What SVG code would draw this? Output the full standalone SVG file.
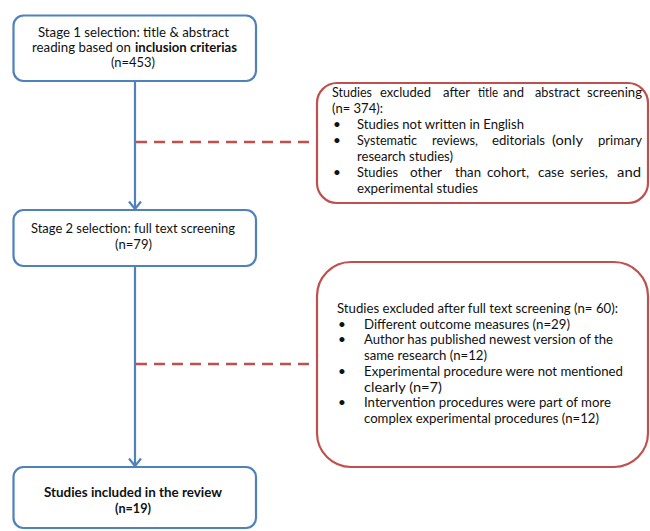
<svg xmlns="http://www.w3.org/2000/svg" width="650" height="531" viewBox="0 0 650 531">
<defs>
<style>
.blue{fill:#fff;stroke:#4f81bd;stroke-width:2.2}
.red{fill:#fff;stroke:#c0504d;stroke-width:2.2}
.t{font-family:Lato,"Open Sans","Liberation Sans",sans-serif;font-size:13.5px;fill:#111}
.b{font-weight:bold}
.flow{stroke:#4f81bd;stroke-width:2.2;fill:none}
.dash{stroke:#c0504d;stroke-width:2.5;stroke-dasharray:11 7;fill:none}
</style>
<marker id="arr" viewBox="0 0 10 14" refX="8.5" refY="7" markerWidth="10" markerHeight="14" markerUnits="userSpaceOnUse" orient="auto">
<path d="M1,1 L8.5,7 L1,13" fill="none" stroke="#4f81bd" stroke-width="2.2"/>
</marker>
</defs>
<rect width="650" height="531" fill="#fff"/>
<g id="connectors">
<line class="flow" x1="135" y1="81" x2="135" y2="209" marker-end="url(#arr)"/>
<line class="flow" x1="135" y1="266" x2="135" y2="466" marker-end="url(#arr)"/>
<line class="dash" x1="136" y1="142" x2="317" y2="142"/>
<line class="dash" x1="136" y1="364" x2="317" y2="364"/>
</g>
<g id="stage1">
<rect class="blue" x="13.5" y="15.5" width="242.5" height="65.5" rx="10"/>
<text class="t" x="38" y="37" textLength="191" lengthAdjust="spacingAndGlyphs">Stage 1 selection: title &amp; abstract</text>
<text class="t" x="32" y="52" textLength="99" lengthAdjust="spacingAndGlyphs">reading based on</text>
<text class="t b" x="135" y="52" textLength="102" lengthAdjust="spacingAndGlyphs">inclusion  criterias</text>
<text class="t" x="111" y="67" textLength="44" lengthAdjust="spacingAndGlyphs">(n=453)</text>
</g>
<g id="excluded1">
<rect class="red" x="317" y="83" width="331" height="120" rx="20"/>
<text class="t" y="97"><tspan x="332" textLength="40" lengthAdjust="spacingAndGlyphs">Studies</tspan><tspan x="380" textLength="51" lengthAdjust="spacingAndGlyphs">excluded</tspan><tspan x="443" textLength="27" lengthAdjust="spacingAndGlyphs">after</tspan><tspan x="478" textLength="20" lengthAdjust="spacingAndGlyphs">title</tspan><tspan x="503" textLength="21" lengthAdjust="spacingAndGlyphs">and</tspan><tspan x="535" textLength="45" lengthAdjust="spacingAndGlyphs">abstract</tspan><tspan x="587" textLength="55" lengthAdjust="spacingAndGlyphs">screening</tspan></text>
<text class="t" x="332" y="112.5" textLength="51" lengthAdjust="spacingAndGlyphs">(n= 374):</text>
<text class="t" x="333" y="128.5">•</text>
<text class="t" x="357" y="128.5" textLength="167" lengthAdjust="spacingAndGlyphs">Studies not written in English</text>
<text class="t" x="333" y="144.5">•</text>
<text class="t" y="144.5"><tspan x="357" textLength="60" lengthAdjust="spacingAndGlyphs">Systematic</tspan><tspan x="432" textLength="46" lengthAdjust="spacingAndGlyphs">reviews,</tspan><tspan x="492" textLength="53" lengthAdjust="spacingAndGlyphs">editorials</tspan><tspan x="552" textLength="31" lengthAdjust="spacingAndGlyphs">(only</tspan><tspan x="598" textLength="44" lengthAdjust="spacingAndGlyphs">primary</tspan></text>
<text class="t" x="357" y="160.5" textLength="96" lengthAdjust="spacingAndGlyphs">research studies)</text>
<text class="t" x="333" y="176.5">•</text>
<text class="t" y="176.5"><tspan x="357" textLength="41" lengthAdjust="spacingAndGlyphs">Studies</tspan><tspan x="410" textLength="32" lengthAdjust="spacingAndGlyphs">other</tspan><tspan x="455" textLength="26" lengthAdjust="spacingAndGlyphs">than</tspan><tspan x="487" textLength="42" lengthAdjust="spacingAndGlyphs">cohort,</tspan><tspan x="538" textLength="26" lengthAdjust="spacingAndGlyphs">case</tspan><tspan x="570" textLength="38" lengthAdjust="spacingAndGlyphs">series,</tspan><tspan x="617" textLength="24" lengthAdjust="spacingAndGlyphs">and</tspan></text>
<text class="t" x="357" y="192.5" textLength="121" lengthAdjust="spacingAndGlyphs">experimental studies</text>
</g>
<g id="stage2">
<rect class="blue" x="13.5" y="210" width="242.5" height="56" rx="10"/>
<text class="t" x="31" y="233" textLength="204" lengthAdjust="spacingAndGlyphs">Stage 2 selection: full text screening</text>
<text class="t" x="115" y="249" textLength="37" lengthAdjust="spacingAndGlyphs">(n=79)</text>
</g>
<g id="excluded2">
<rect class="red" x="317" y="262" width="331" height="205" rx="34"/>
<text class="t" x="337" y="313" textLength="281" lengthAdjust="spacingAndGlyphs">Studies excluded after full text screening (n= 60):</text>
<text class="t" x="338" y="328.7">•</text>
<text class="t" x="364" y="328.7" textLength="206" lengthAdjust="spacingAndGlyphs">Different outcome measures (n=29)</text>
<text class="t" x="338" y="344.4">•</text>
<text class="t" x="364" y="344.4" textLength="249" lengthAdjust="spacingAndGlyphs">Author has published newest version of the</text>
<text class="t" x="364" y="360.1" textLength="123" lengthAdjust="spacingAndGlyphs">same research (n=12)</text>
<text class="t" x="338" y="375.8">•</text>
<text class="t" x="364" y="375.8" textLength="259" lengthAdjust="spacingAndGlyphs">Experimental procedure were not mentioned</text>
<text class="t" x="364" y="391.5" textLength="78" lengthAdjust="spacingAndGlyphs">clearly (n=7)</text>
<text class="t" x="338" y="407.2">•</text>
<text class="t" x="364" y="407.2" textLength="247" lengthAdjust="spacingAndGlyphs">Intervention procedures were part of more</text>
<text class="t" x="364" y="422.9" textLength="235" lengthAdjust="spacingAndGlyphs">complex experimental procedures (n=12)</text>
</g>
<g id="included">
<rect class="blue" x="13.5" y="467" width="242.5" height="61" rx="10"/>
<text class="t b" x="44" y="497" textLength="178" lengthAdjust="spacingAndGlyphs">Studies included in the review</text>
<text class="t b" x="115" y="513" textLength="36" lengthAdjust="spacingAndGlyphs">(n=19)</text>
</g>
</svg>
